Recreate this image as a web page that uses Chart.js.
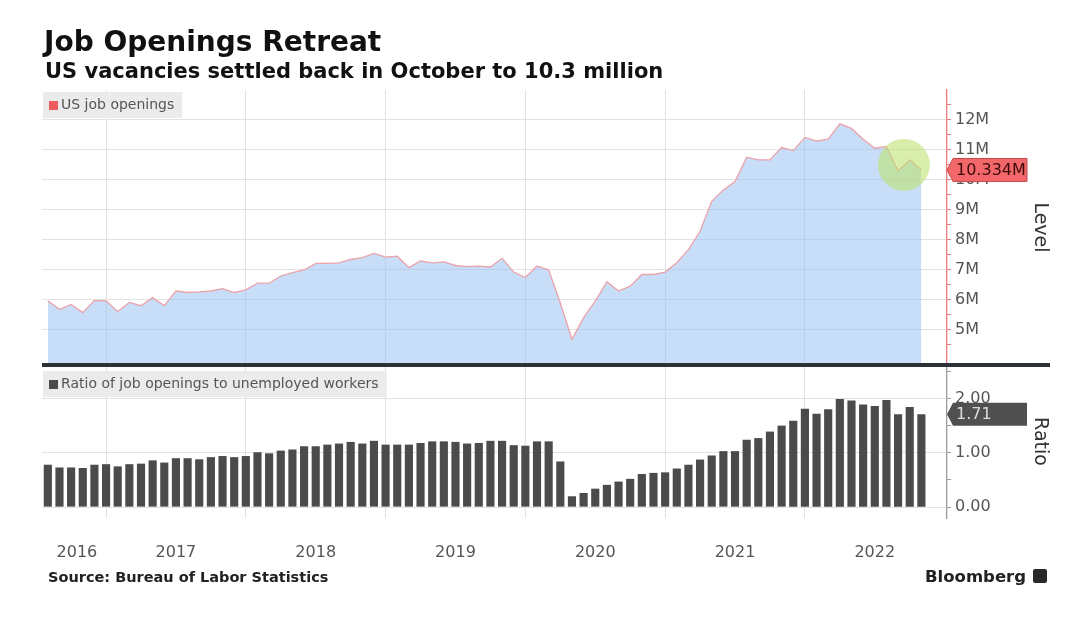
<!DOCTYPE html>
<html>
<head>
<meta charset="utf-8">
<script src="https://cdn.jsdelivr.net/npm/chart.js@4.4.0/dist/chart.umd.min.js"></script>
<style>
html,body{margin:0;padding:0;background:#fff;width:1080px;height:625px;overflow:hidden;}
#wrap{position:relative;width:1080px;height:625px;font-family:"DejaVu Sans",sans-serif;}
canvas{position:absolute;left:0;top:0;}
.t{position:absolute;white-space:nowrap;line-height:1;}
#title{left:44px;top:28px;font-weight:bold;font-size:28px;color:#111;}
#sub{left:45px;top:61px;font-weight:bold;font-size:21px;color:#111;}
#src{left:48px;top:570px;font-weight:bold;font-size:14.5px;color:#222;}
#bbg{left:925px;top:569px;font-weight:bold;font-size:16.5px;color:#222;}
#icon{position:absolute;left:1033px;top:569px;width:14px;height:14px;background:#2a2a2a;border-radius:2px;}
#sep{position:absolute;left:42px;top:363px;width:1008px;height:4px;background:#2b3136;}
</style>
</head>
<body>
<div id="wrap">
  <canvas id="topChart" width="1080" height="625"></canvas>
  <canvas id="botChart" width="1080" height="625"></canvas>
  <div id="sep"></div>
  <div class="t" id="title">Job Openings Retreat</div>
  <div class="t" id="sub">US vacancies settled back in October to 10.3 million</div>
  <div class="t" id="src">Source: Bureau of Labor Statistics</div>
  <div class="t" id="bbg">Bloomberg</div>
  <div id="icon"></div>
</div>
<script>
// ---------- data ----------
const months = [
  '2016-07','2016-08','2016-09','2016-10','2016-11','2016-12',
  '2017-01','2017-02','2017-03','2017-04','2017-05','2017-06','2017-07','2017-08','2017-09','2017-10','2017-11','2017-12',
  '2018-01','2018-02','2018-03','2018-04','2018-05','2018-06','2018-07','2018-08','2018-09','2018-10','2018-11','2018-12',
  '2019-01','2019-02','2019-03','2019-04','2019-05','2019-06','2019-07','2019-08','2019-09','2019-10','2019-11','2019-12',
  '2020-01','2020-02','2020-03','2020-04','2020-05','2020-06','2020-07','2020-08','2020-09','2020-10','2020-11','2020-12',
  '2021-01','2021-02','2021-03','2021-04','2021-05','2021-06','2021-07','2021-08','2021-09','2021-10','2021-11','2021-12',
  '2022-01','2022-02','2022-03','2022-04','2022-05','2022-06','2022-07','2022-08','2022-09','2022-10'
];
// US job openings, millions
const openings = [
  5.97, 5.69, 5.85, 5.58, 5.99, 5.97, 5.62, 5.92, 5.81, 6.08,
  5.81, 6.30, 6.25, 6.27, 6.30, 6.38, 6.25, 6.34, 6.56, 6.56,
  6.80, 6.91, 7.00, 7.22, 7.22, 7.24, 7.35, 7.41, 7.55, 7.43,
  7.46, 7.08, 7.30, 7.24, 7.27, 7.15, 7.11, 7.13, 7.10, 7.39,
  6.93, 6.75, 7.13, 7.00, 5.90, 4.69, 5.41, 5.96, 6.61, 6.30,
  6.46, 6.85, 6.85, 6.93, 7.24, 7.68, 8.29, 9.29, 9.67, 9.95,
  10.76, 10.67, 10.67, 11.08, 10.98, 11.42, 11.30, 11.36, 11.87, 11.72,
  11.36, 11.06, 11.11, 10.30, 10.67, 10.334
];
// Ratio of job openings to unemployed workers
const ratio = [
  0.78, 0.73, 0.73, 0.72, 0.78, 0.79, 0.75, 0.79, 0.80, 0.86,
  0.82, 0.90, 0.90, 0.88, 0.92, 0.94, 0.92, 0.94, 1.01, 0.99,
  1.04, 1.06, 1.12, 1.12, 1.15, 1.17, 1.20, 1.17, 1.22, 1.15,
  1.15, 1.15, 1.18, 1.21, 1.21, 1.20, 1.17, 1.18, 1.22, 1.22,
  1.14, 1.13, 1.21, 1.21, 0.84, 0.20, 0.26, 0.34, 0.41, 0.47,
  0.52, 0.61, 0.63, 0.64, 0.71, 0.78, 0.875, 0.95, 1.03, 1.03,
  1.24, 1.27, 1.39, 1.50, 1.59, 1.81, 1.72, 1.80, 1.99, 1.96,
  1.89, 1.86, 1.97, 1.71, 1.84, 1.71
];
const yearLabels = ['2016','2017','2018','2019','2020','2021','2022'];
const levelTicks = [5, 6, 7, 8, 9, 10, 11, 12];
const ratioTicks = [0, 1, 2];
const seriesNames = ['US job openings', 'Ratio of job openings to unemployed workers'];

// ---------- axis helpers ----------
const X_MIN = -0.5, X_MAX = 77.2;
const yearEnds = months.map((m, i) => m.endsWith('-12') ? i : -1).filter(i => i >= 0);
const yearPos = yearLabels.map(y => {
  const prevDec = months.indexOf((+y - 1) + '-12');
  if (prevDec >= 0) return prevDec + 6;
  return months.indexOf(y + '-12') / 2;
});
function withMinor(list) {
  const out = [];
  list.forEach(v => { out.push(v - 0.5); out.push(v); });
  out.push(list[list.length - 1] + 0.5);
  return out.filter((v, i, a) => a.indexOf(v) === i).map(v => ({ value: v }));
}

const GRID = '#e2e2e2';
const AXIS_W = 133;

function drawLegendBox(ctx, left, top, label, swatch) {
  ctx.save();
  ctx.font = '14px "DejaVu Sans"';
  const tw = ctx.measureText(label).width;
  ctx.fillStyle = '#ebebeb';
  ctx.fillRect(left, top, tw + 26, 26);
  ctx.fillStyle = swatch;
  ctx.fillRect(left + 6, top + 9, 9, 9);
  ctx.fillStyle = '#555';
  ctx.textBaseline = 'middle';
  ctx.fillText(label, left + 18, top + 13.5);
  ctx.restore();
}
function drawTag(ctx, x0, yPix, text, fill, stroke, color) {
  const h = 23, bx = x0 + 6, bw = 74;
  ctx.save();
  ctx.beginPath();
  ctx.moveTo(x0, yPix);
  ctx.lineTo(bx, yPix - h / 2);
  ctx.lineTo(bx + bw, yPix - h / 2);
  ctx.lineTo(bx + bw, yPix + h / 2);
  ctx.lineTo(bx, yPix + h / 2);
  ctx.closePath();
  ctx.fillStyle = fill;
  ctx.fill();
  if (stroke) { ctx.strokeStyle = stroke; ctx.lineWidth = 1; ctx.stroke(); }
  ctx.fillStyle = color;
  ctx.font = '16px "DejaVu Sans"';
  ctx.textBaseline = 'middle';
  ctx.fillText(text, bx + 3, yPix + 1);
  ctx.restore();
}

// ---------- top chart ----------
const topOverlay = {
  id: 'topOverlay',
  afterDatasetsDraw(chart) {
    const { ctx, scales: { x, y } } = chart;
    const n = openings.length;
    const idx = [n - 4, n - 3, n - 2, n - 1];
    const cx = x.getPixelForValue(idx.reduce((a, b) => a + b, 0) / idx.length);
    const cy = y.getPixelForValue(idx.reduce((a, i) => a + openings[i], 0) / idx.length);
    ctx.save();
    ctx.fillStyle = 'rgba(190,226,110,0.58)';
    ctx.beginPath();
    ctx.arc(cx, cy + 3, 26, 0, Math.PI * 2);
    ctx.fill();
    ctx.restore();
  },
  afterDraw(chart) {
    const { ctx, chartArea, scales: { y } } = chart;
    drawLegendBox(ctx, chartArea.left + 1, chartArea.top + 2, seriesNames[0], '#f05b5e');
    const last = openings[openings.length - 1];
    drawTag(ctx, chartArea.right, y.getPixelForValue(last), last.toFixed(3) + 'M', '#f2676a', '#c94a4d', '#3d0b0b');
  }
};

new Chart(document.getElementById('topChart'), {
  type: 'line',
  data: {
    datasets: [{
      label: seriesNames[0],
      data: openings.map((v, i) => ({ x: i, y: v })),
      borderColor: '#eca2aa',
      borderWidth: 1.3,
      pointRadius: 0,
      tension: 0,
      fill: 'start',
      backgroundColor: 'rgba(145,190,242,0.5)'
    }]
  },
  options: {
    responsive: false,
    animation: false,
    devicePixelRatio: 1,
    layout: { padding: { left: 42, top: 90, right: 0, bottom: 260 } },
    plugins: { legend: { display: false }, tooltip: { enabled: false } },
    scales: {
      x: {
        type: 'linear', min: X_MIN, max: X_MAX, offset: false,
        afterBuildTicks: s => { s.ticks = yearEnds.map(v => ({ value: v })); },
        ticks: { display: false },
        grid: { color: GRID, drawTicks: false, offset: false },
        border: { display: false },
        afterFit: s => { s.height = 0; }
      },
      y: {
        type: 'linear', position: 'right', min: 3.833, max: 13,
        afterBuildTicks: s => { s.ticks = withMinor(levelTicks); },
        ticks: {
          color: '#555', font: { family: 'DejaVu Sans', size: 16 }, padding: 4,
          autoSkip: false,
          callback: v => Number.isInteger(v) ? v + 'M' : ''
        },
        grid: {
          color: c => Number.isInteger(c.tick.value) ? GRID : 'rgba(0,0,0,0)',
          tickColor: '#e8787d', tickLength: 4, tickWidth: 1
        },
        border: { color: '#e8787d', width: 1.3 },
        title: { display: true, text: 'Level', color: '#333', font: { family: 'DejaVu Sans', size: 19 }, padding: { top: 29, bottom: 0 } },
        afterFit: s => { s.width = AXIS_W; }
      }
    }
  },
  plugins: [topOverlay]
});

// ---------- bottom chart ----------
const botOverlay = {
  id: 'botOverlay',
  afterDraw(chart) {
    const { ctx, chartArea, scales: { y } } = chart;
    drawLegendBox(ctx, chartArea.left + 1, chartArea.top + 6, seriesNames[1], '#4a4a4a');
    const last = ratio[ratio.length - 1];
    drawTag(ctx, chartArea.right, y.getPixelForValue(last), last.toFixed(2), '#505050', null, '#dcdcdc');
  }
};

new Chart(document.getElementById('botChart'), {
  type: 'bar',
  data: {
    datasets: [{
      label: seriesNames[1],
      data: ratio.map((v, i) => ({ x: i, y: v })),
      backgroundColor: '#4b4b4b',
      barPercentage: 0.7,
      categoryPercentage: 1
    }]
  },
  options: {
    responsive: false,
    animation: false,
    devicePixelRatio: 1,
    layout: { padding: { left: 42, top: 365, right: 0, bottom: 60 } },
    plugins: { legend: { display: false }, tooltip: { enabled: false } },
    scales: {
      xg: {
        type: 'linear', axis: 'x', position: 'bottom', min: X_MIN, max: X_MAX, offset: false,
        afterBuildTicks: s => { s.ticks = yearEnds.map(v => ({ value: v })); },
        ticks: { display: false },
        grid: { color: GRID, drawTicks: false, offset: false },
        border: { display: false },
        afterFit: s => { s.height = 0; }
      },
      x: {
        type: 'linear', position: 'bottom', min: X_MIN, max: X_MAX, offset: false,
        afterBuildTicks: s => { s.ticks = yearPos.map(v => ({ value: v })); },
        ticks: {
          color: '#555', font: { family: 'DejaVu Sans', size: 16 }, padding: 25,
          autoSkip: false, maxRotation: 0,
          callback: (v, i) => yearLabels[i]
        },
        grid: { display: false, drawTicks: false, offset: false },
        border: { display: false },
        afterFit: s => { s.height = 47; }
      },
      y: {
        type: 'linear', position: 'right', min: -0.2, max: 2.615,
        afterBuildTicks: s => { s.ticks = withMinor(ratioTicks).filter(t => t.value >= 0); },
        ticks: {
          color: '#555', font: { family: 'DejaVu Sans', size: 16 }, padding: 4,
          autoSkip: false,
          callback: v => Number.isInteger(v) ? v.toFixed(2) : ''
        },
        grid: {
          color: c => Number.isInteger(c.tick.value) ? GRID : 'rgba(0,0,0,0)',
          tickColor: '#9a9a9a', tickLength: 4, tickWidth: 1
        },
        border: { color: '#9a9a9a', width: 1.3 },
        title: { display: true, text: 'Ratio', color: '#333', font: { family: 'DejaVu Sans', size: 19 }, padding: { top: 29, bottom: 0 } },
        afterFit: s => { s.width = AXIS_W; }
      }
    }
  },
  plugins: [botOverlay]
});
</script>
</body>
</html>
